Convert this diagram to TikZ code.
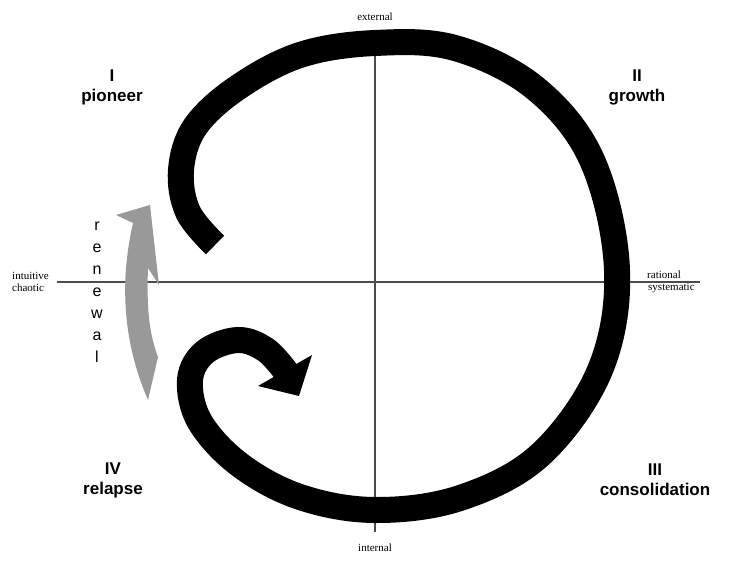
\documentclass[tikz,border=0pt]{standalone}
\usepackage{fontspec}
\setmainfont{Liberation Serif}
\setsansfont{Liberation Sans}
\usetikzlibrary{positioning}

\begin{document}
\begin{tikzpicture}[x=1pt, y=-1pt,
  every node/.style={inner sep=0pt},
  phase/.style={font=\sffamily\bfseries\fontsize{17}{20}\selectfont, align=center},
  axislabel/.style={font=\fontsize{11}{12}\selectfont, align=left}]
\useasboundingbox (0,0) rectangle (750,564);
% axes
\coordinate (west) at (57,282);
\coordinate (east) at (700,282);
\coordinate (north) at (375,30);
\coordinate (south) at (375,532);
\draw[gray!60!black, line width=1.2pt] (west) -- (east);
\draw[gray!60!black, line width=1.2pt] (north) -- (south);
\node (ext) [axislabel] at (375,17) {external};
\node (int) [axislabel] at (375,548) {internal};
\node (intu) [axislabel, anchor=west] at (12,282) {intuitive\\chaotic};
\node (rat) [axislabel, anchor=west] at (647,282) {rational\\\hspace*{1pt}systematic};
% phases
\node (pioneer) [phase] at (112,87) {I\\pioneer};
\node (growth) [phase] at (637,87) {II\\growth};
\node (consol) [phase] at (655,480) {III\\consolidation};
\node (relapse) [phase] at (113,480) {IV\\relapse};
% renewal arrow
\fill[gray!80] (116,215) -- (150,205) -- (159,285) -- (148,268)
  .. controls (146,320) and (152,340) .. (158,357) -- (148,400)
  .. controls (122,340) and (120,280) .. (133,223) -- cycle;
\node (renewal) [font=\sffamily\fontsize{16}{22}\selectfont, align=center]
  at (97,292) {r\\e\\n\\e\\w\\a\\l};
% black spiral
\draw[line width=26pt] plot[smooth, tension=0.6] coordinates {
  (215,245) (188,212) (181,170) (195,127) (237,88) (300,55) (375,43)
  (455,48) (535,88) (592,160) (617,270) (600,370) (540,455) (460,498)
  (375,510) (300,497) (240,465) (200,422) (190,380) (205,352) (238,340)
  (266,350) (287,373)};
\fill (312,355) -- (258,386) -- (299,396) -- cycle;
\end{tikzpicture}
\end{document}
